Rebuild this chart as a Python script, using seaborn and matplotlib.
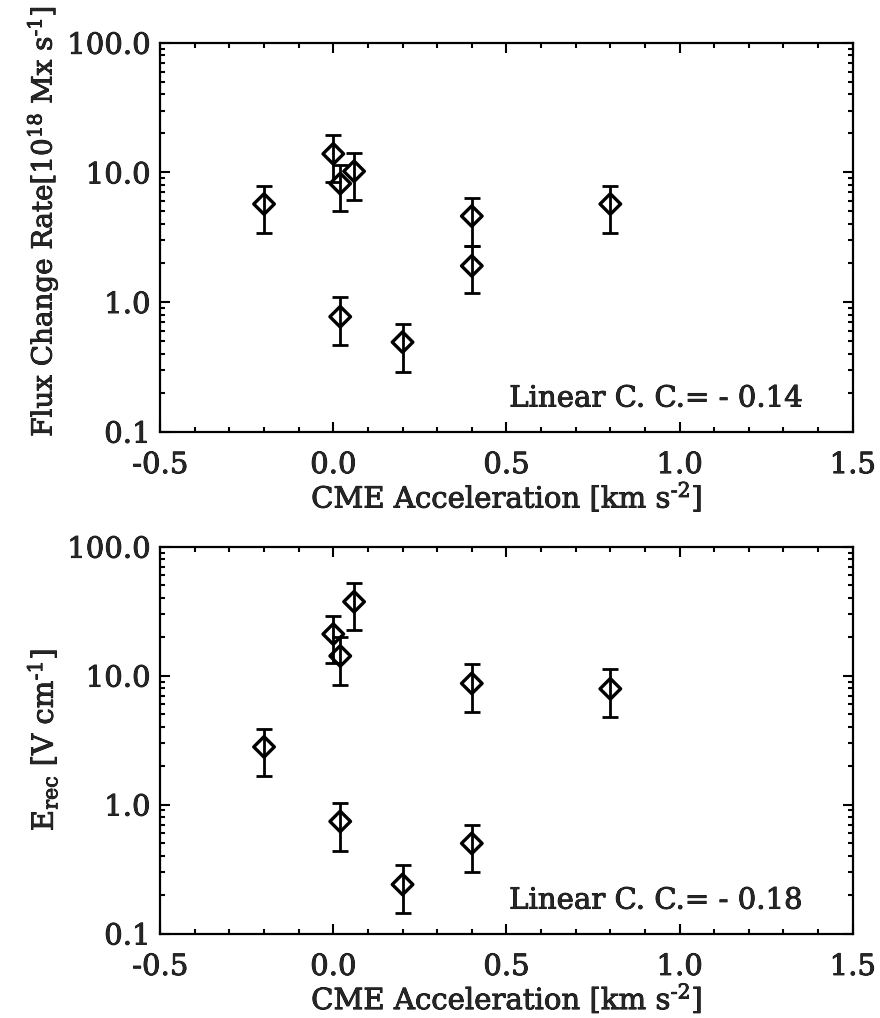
import numpy as np
import pandas as pd
import matplotlib
matplotlib.use("Agg")
import matplotlib.pyplot as plt
import matplotlib.ticker as mticker
import matplotlib.patheffects as pe
import seaborn as sns

# ---- data ----
accel_top = [-0.2, 0.0, 0.02, 0.06, 0.4, 0.4, 0.02, 0.2, 0.8]
flux_rate = [5.7, 13.9, 8.2, 10.2, 4.6, 1.9, 0.77, 0.49, 5.7]
flux_hi = [7.9, 19.3, 11.5, 14.2, 6.4, 2.7, 1.09, 0.68, 7.8]
flux_lo = [3.4, 8.4, 5.0, 6.1, 2.7, 1.17, 0.47, 0.29, 3.4]

accel_bot = [-0.2, 0.0, 0.02, 0.06, 0.4, 0.02, 0.4, 0.2, 0.8]
erec = [2.8, 21.0, 14.2, 37.4, 8.7, 0.74, 0.50, 0.24, 7.9]
erec_hi = [3.85, 29.1, 20.1, 51.9, 12.3, 1.03, 0.70, 0.34, 11.3]
erec_lo = [1.66, 12.5, 8.5, 22.4, 5.2, 0.44, 0.30, 0.143, 4.8]

ytick_vals = [0.1, 1.0, 10.0, 100.0]
ytick_labels = ["0.1", "1.0", "10.0", "100.0"]
xtick_vals = [-0.5, 0.0, 0.5, 1.0, 1.5]
xtick_labels = ["-0.5", "0.0", "0.5", "1.0", "1.5"]

cc_top = "Linear C. C.= - 0.14"
cc_bot = "Linear C. C.= - 0.18"
xlabel = r"CME Acceleration [km s$^{\text{-2}}$]"
ylabel_top = r"Flux Change Rate[10$^{\text{18}}$ Mx s$^{\text{-1}}$]"
ylabel_bot = r"E$_{\text{rec}}$ [V cm$^{\text{-1}}$]"

sns.set_theme(style="ticks")
plt.rcParams["font.family"] = ["DejaVu Serif"]
plt.rcParams["mathtext.fontset"] = "dejavuserif"
FS = 21
STROKE = [pe.withStroke(linewidth=0.6, foreground="black")]

fig = plt.figure(figsize=(8.8, 10.18), dpi=100)
ax1 = fig.add_axes([0.182, 0.576, 0.787, 0.382])
ax2 = fig.add_axes([0.182, 0.083, 0.787, 0.380])


def panel(ax, x, y, lo, hi, ylabel, cc, ylab_y, ylab_fs):
    df = pd.DataFrame({"x": x, "y": y})
    y = np.asarray(y)
    yerr = np.vstack([y - np.asarray(lo), np.asarray(hi) - y])
    ax.errorbar(x, y, yerr=yerr, fmt="none", ecolor="black",
                elinewidth=2.0, capsize=5.5, capthick=2.0, zorder=2)
    sns.scatterplot(data=df, x="x", y="y", ax=ax, marker="D", s=110,
                    facecolors="none", edgecolor="black", linewidth=2.4,
                    zorder=3, legend=False)
    ax.set_yscale("log")
    ax.set_xlim(-0.5, 1.5)
    ax.set_ylim(0.1, 100.0)
    ax.set_xticks(xtick_vals)
    ax.set_xticklabels(xtick_labels)
    ax.set_yticks(ytick_vals)
    ax.set_yticklabels(ytick_labels)
    ax.xaxis.set_minor_locator(mticker.MultipleLocator(0.1))
    ax.yaxis.set_minor_locator(mticker.LogLocator(base=10, subs=np.arange(2, 10)))
    ax.yaxis.set_minor_formatter(mticker.NullFormatter())
    for s in ax.spines.values():
        s.set_linewidth(1.6)
        s.set_color("black")
    ax.tick_params(axis="both", which="both", direction="in", top=True,
                   right=True, color="black", width=1.5, labelsize=FS)
    ax.tick_params(axis="both", which="major", length=7)
    ax.tick_params(axis="both", which="minor", length=3.5)
    ax.tick_params(axis="x", which="major", pad=14)
    ax.tick_params(axis="y", which="major", pad=7)
    for lab in ax.get_xticklabels() + ax.get_yticklabels():
        lab.set_path_effects(STROKE)
    ax.set_xlabel(xlabel, fontsize=FS, va="center", path_effects=STROKE)
    ax.set_ylabel(ylabel, fontsize=ylab_fs, path_effects=STROKE)
    ax.xaxis.set_label_coords(0.5, -0.168)
    ax.yaxis.set_label_coords(-0.145, ylab_y)
    ax.text(0.927, 0.085, cc, transform=ax.transAxes, ha="right",
            va="center", fontsize=FS, path_effects=STROKE)


panel(ax1, accel_top, flux_rate, flux_lo, flux_hi, ylabel_top, cc_top, 0.54, 20)
panel(ax2, accel_bot, erec, erec_lo, erec_hi, ylabel_bot, cc_bot, 0.5, FS)

fig.savefig("out.png", dpi=100)
